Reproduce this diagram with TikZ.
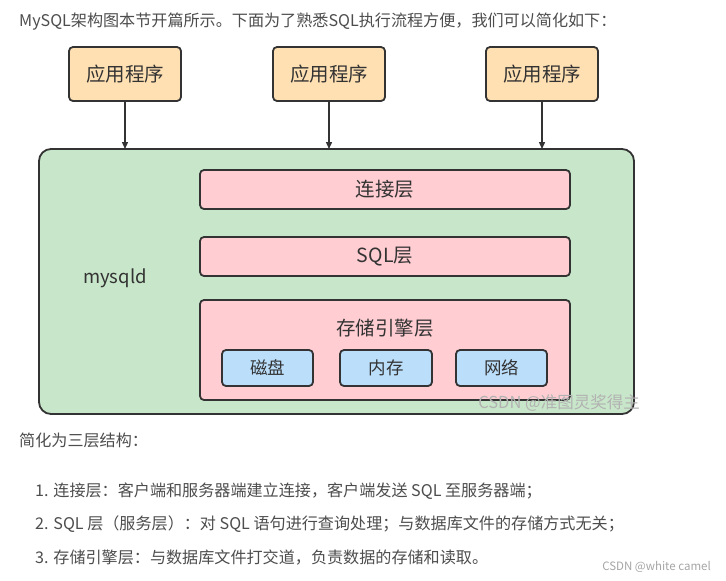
\documentclass[tikz,border=0pt]{standalone}
\usepackage{fontspec}
\setmainfont{Noto Sans CJK SC}
\usetikzlibrary{arrows.meta}
\definecolor{peach}{RGB}{255,224,178}
\definecolor{greenbg}{RGB}{200,230,201}
\definecolor{pinkbg}{RGB}{255,205,210}
\definecolor{bluebg}{RGB}{187,222,251}
\definecolor{edge}{RGB}{51,51,51}
\definecolor{txt}{RGB}{51,51,51}
\definecolor{bodytxt}{RGB}{77,77,77}
\tikzset{
  x=1pt, y=-1pt,
  box/.style={draw=edge, line width=1.8pt, rounded corners=4pt, inner sep=0pt, text=txt, font=\fontsize{19.5}{22}\selectfont},
  appbox/.style={box, fill=peach},
  layerbox/.style={box, fill=pinkbg},
  devbox/.style={box, fill=bluebg, font=\fontsize{17.5}{20}\selectfont},
  arr/.style={draw=edge, line width=1.4pt, -{Triangle[length=7pt,width=6pt]}},
  para/.style={anchor=west, inner sep=0pt, text=bodytxt, font=\fontsize{16.1}{18}\selectfont},
}
\begin{document}
\begin{tikzpicture}
\useasboundingbox (0,0) rectangle (726,581);
\fill[white] (0,0) rectangle (726,581);
\node[para] (intro) at (19,22) {MySQL架构图本节开篇所示。下面为了熟悉SQL执行流程方便，我们可以简化如下：};
% app boxes
\node[appbox, minimum width=112pt, minimum height=54pt] (a1) at (125,74) {应用程序};
\node[appbox, minimum width=112pt, minimum height=54pt] (a2) at (329,74) {应用程序};
\node[appbox, minimum width=112pt, minimum height=54pt] (a3) at (542,74) {应用程序};
% mysqld container
\draw[draw=edge, line width=1.8pt, fill=greenbg, rounded corners=12pt] (39,149) rectangle (634,414);
\coordinate (g1) at (125,149);
\coordinate (g2) at (329,149);
\coordinate (g3) at (542,149);
\draw[arr] (a1.south) -- (g1);
\draw[arr] (a2.south) -- (g2);
\draw[arr] (a3.south) -- (g3);
\node[text=txt, font=\fontsize{18.5}{21}\selectfont] (mysqld) at (115,278) {mysqld};
% layers
\node[layerbox, minimum width=370pt, minimum height=39pt] (conn) at (385,189.5) {连接层};
\node[layerbox, minimum width=370pt, minimum height=39pt] (sql) at (385,256.5) {SQL层};
\node[layerbox, minimum width=370pt, minimum height=100pt] (eng) at (385,350) {};
\node[text=txt, font=\fontsize{19.5}{22}\selectfont] (engt) at (385,328) {存储引擎层};
\node[devbox, minimum width=91pt, minimum height=36pt] (d1) at (267.5,368) {磁盘};
\node[devbox, minimum width=92pt, minimum height=36pt] (d2) at (386,368) {内存};
\node[devbox, minimum width=91pt, minimum height=36pt] (d3) at (501.5,368) {网络};
% watermark
\node[anchor=east, inner sep=0pt, text=gray!60, font=\fontsize{16.5}{18}\selectfont] (wm) at (640,403) {CSDN @准图灵奖得主};
% text below
\node[para] (simp) at (19,440) {简化为三层结构：};
\node[para] (l1) at (35,491) {1. 连接层：客户端和服务器端建立连接，客户端发送 SQL 至服务器端；};
\node[para] (l2) at (35,524) {2. SQL 层（服务层）：对 SQL 语句进行查询处理；与数据库文件的存储方式无关；};
\node[para] (l3) at (35,558) {3. 存储引擎层：与数据库文件打交道，负责数据的存储和读取。};
\node[anchor=east, inner sep=0pt, text=gray!70, font=\fontsize{11.5}{13}\selectfont] (cs) at (711,567) {CSDN @white camel};
\end{tikzpicture}
\end{document}
